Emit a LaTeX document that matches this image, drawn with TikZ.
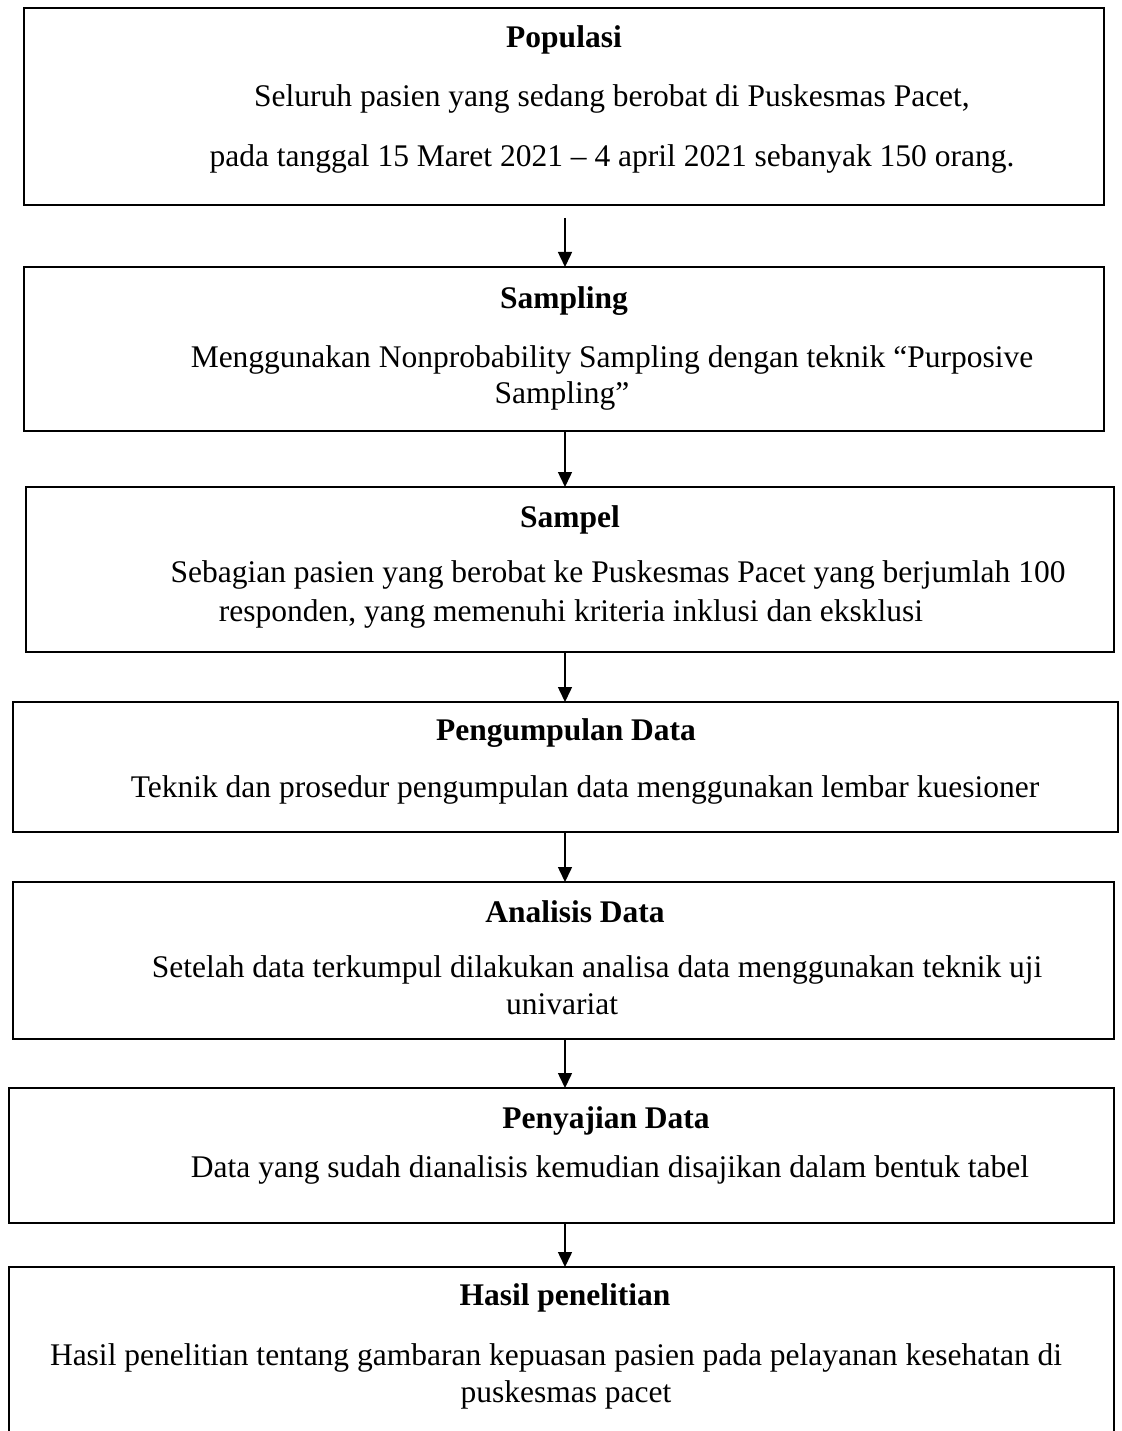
\documentclass[tikz,border=0pt]{standalone}
\usepackage{fontspec}
\setmainfont{Liberation Serif}
\usetikzlibrary{arrows.meta}

\tikzset{
  box/.style={draw, line width=1.8pt, rectangle, inner sep=0pt, outer sep=0pt},
  title/.style={anchor=base, inner sep=0pt, font=\fontsize{31.5}{36}\selectfont\bfseries},
  body/.style={anchor=base, inner sep=0pt, font=\fontsize{31.5}{36}\selectfont},
  arr/.style={line width=1.5pt, -{Triangle[length=15pt,width=14pt]}}
}

\begin{document}
\begin{tikzpicture}[x=1pt, y=-1pt]
      \useasboundingbox (0,0) rectangle (1121,1431);
      % boxes
      \node (box1) [box, minimum width=1080pt, minimum height=197pt] at (564,106.5) {};
      \node (box2) [box, minimum width=1080pt, minimum height=164pt] at (564,349) {};
      \node (box3) [box, minimum width=1088pt, minimum height=165pt] at (570,569.5) {};
      \node (box4) [box, minimum width=1105pt, minimum height=130pt] at (565.5,767) {};
      \node (box5) [box, minimum width=1101pt, minimum height=157pt] at (563.5,960.5) {};
      \node (box6) [box, minimum width=1105pt, minimum height=135pt] at (561.5,1155.5) {};
      \node (box7) [box, minimum width=1105pt, minimum height=176pt] at (561.5,1355) {};
      % texts
      \node (pop) [title] at (564,48) {Populasi};
      \node (pop1) [body] at (612,107) {Seluruh pasien yang sedang berobat di Puskesmas Pacet,};
      \node (pop2) [body] at (612,167) {pada tanggal 15 Maret 2021 -- 4 april 2021 sebanyak 150 orang.};
      \node (smp) [title] at (564,308) {Sampling};
      \node (smp1) [body] at (612,367) {Menggunakan Nonprobability Sampling dengan teknik ``Purposive};
      \node (smp2) [body] at (562,403) {Sampling''};
      \node (spl) [title] at (570,527) {Sampel};
      \node (spl1) [body] at (618,582) {Sebagian pasien yang berobat ke Puskesmas Pacet yang berjumlah 100};
      \node (spl2) [body] at (571,621) {responden, yang memenuhi kriteria inklusi dan eksklusi};
      \node (kum) [title] at (566,740) {Pengumpulan Data};
      \node (kum1) [body] at (585,797) {Teknik dan prosedur pengumpulan data menggunakan lembar kuesioner};
      \node (ana) [title] at (575,922) {Analisis Data};
      \node (ana1) [body] at (597,977) {Setelah data terkumpul dilakukan analisa data menggunakan teknik uji};
      \node (ana2) [body] at (562,1014) {univariat};
      \node (saj) [title] at (606,1128) {Penyajian Data};
      \node (saj1) [body] at (610,1177) {Data yang sudah dianalisis kemudian disajikan dalam bentuk tabel};
      \node (has) [title] at (565,1305) {Hasil penelitian};
      \node (has1) [body] at (556,1365) {Hasil penelitian tentang gambaran kepuasan pasien pada pelayanan kesehatan di};
      \node (has2) [body] at (566,1402) {puskesmas pacet};
      % arrows
      \coordinate (spine) at (565,0);
      \coordinate (start1) at (565,218);
      \begin{scope}[arr]
        \draw (start1) -- (box2.north -| spine);
        \draw (box2.south -| spine) -- (box3.north -| spine);
        \draw (box3.south -| spine) -- (box4.north -| spine);
        \draw (box4.south -| spine) -- (box5.north -| spine);
        \draw (box5.south -| spine) -- (box6.north -| spine);
        \draw (box6.south -| spine) -- (box7.north -| spine);
      \end{scope}
    \end{tikzpicture}
\end{document}
